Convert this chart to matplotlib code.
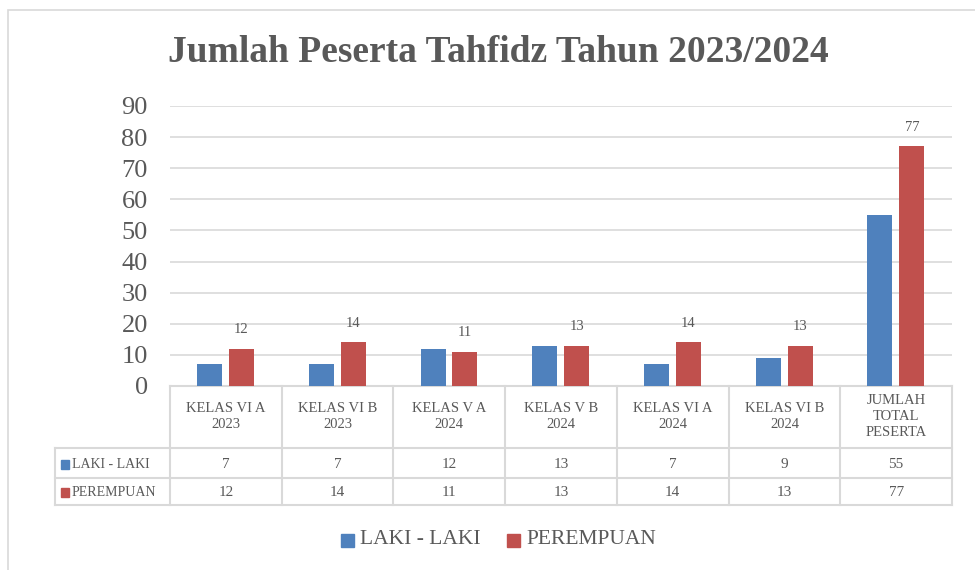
import matplotlib
matplotlib.use("Agg")
import matplotlib.pyplot as plt
import matplotlib.transforms as mtransforms
from matplotlib.lines import Line2D
from matplotlib.patches import Rectangle
import numpy as np

categories = ["KELAS VI A\n2023", "KELAS VI B\n2023", "KELAS V A\n2024", "KELAS V B\n2024",
              "KELAS VI A\n2024", "KELAS VI B\n2024", "JUMLAH\nTOTAL\nPESERTA"]
laki = [7, 7, 12, 13, 7, 9, 55]
perempuan = [12, 14, 11, 13, 14, 13, 77]
series_names = ["LAKI - LAKI", "PEREMPUAN"]
yticks = [0, 10, 20, 30, 40, 50, 60, 70, 80, 90]
title = "Jumlah Peserta Tahfidz Tahun 2023/2024"

BLUE = "#4F81BD"
RED = "#C0504D"
TXT = "#595959"
GRID = "#D9D9D9"
SERIF = ["Liberation Serif", "DejaVu Serif"]

W, H = 975, 570
fig = plt.figure(figsize=(W / 100, H / 100), dpi=100)

def fx(px):
    return px / W

def fy(py):
    return 1 - py / H

# outer border
fig.patches.append(Rectangle((fx(8), fy(575)), fx(980) - fx(8), fy(10) - fy(575),
                             transform=fig.transFigure, fill=False,
                             edgecolor="#D9D9D9", lw=1.2))

left, right, top, bottom = 170, 952, 106, 386
ax = fig.add_axes([fx(left), fy(bottom), fx(right) - fx(left), fy(top) - fy(bottom)])

x = np.arange(len(categories))
bw = 0.224
ax.bar(x - 0.145, laki, width=bw, color=BLUE, zorder=3)
ax.bar(x + 0.14, perempuan, width=bw, color=RED, zorder=3)
for xi, v in zip(x, perempuan):
    ax.annotate(str(v), (xi + 0.14, v), xytext=(0, 9), textcoords="offset points",
                ha="center", va="bottom", fontsize=10.5, color=TXT, family=SERIF)

ax.set_xlim(-0.5, len(categories) - 0.5)
ax.set_ylim(0, 90)
ax.set_yticks(yticks)
ax.set_yticklabels([str(t) for t in yticks], fontsize=19, color=TXT, family=SERIF)
ax.tick_params(axis="y", length=0, pad=16)
ax.set_xticks([])
ax.grid(axis="y", color=GRID, lw=1.2, zorder=0)
for s in ["top", "right", "left"]:
    ax.spines[s].set_visible(False)
ax.spines["bottom"].set_color(GRID)
ax.spines["bottom"].set_linewidth(1.5)

fig.text(fx(498), fy(53), title, ha="center", va="center", fontsize=27,
         fontweight="bold", color=TXT, family=SERIF)

# data table
tr = mtransforms.blended_transform_factory(ax.transData, fig.transFigure)
row_y = [386, 448, 478, 505]
tab_left = 55
lkw = dict(color=GRID, lw=1.5)
for i in range(len(categories) + 1):
    xb = i - 0.5
    fig.add_artist(Line2D([xb, xb], [fy(row_y[0]), fy(row_y[-1])], transform=tr, **lkw))
for ry in row_y[1:]:
    fig.add_artist(Line2D([fx(tab_left), fx(right)], [fy(ry), fy(ry)],
                          transform=fig.transFigure, **lkw))
fig.add_artist(Line2D([fx(tab_left), fx(tab_left)], [fy(row_y[1]), fy(row_y[-1])],
                      transform=fig.transFigure, **lkw))

for xi, c in zip(x, categories):
    fig.text(xi, fy((row_y[0] + row_y[1]) / 2), c, transform=tr, ha="center", va="center",
             fontsize=10.5, color=TXT, family=SERIF, linespacing=1.3)
for r, (vals, name, col) in enumerate(zip([laki, perempuan], series_names, [BLUE, RED])):
    cy = fy((row_y[r + 1] + row_y[r + 2]) / 2 + 1)
    for xi, v in zip(x, vals):
        fig.text(xi, cy, str(v), transform=tr, ha="center", va="center",
                 fontsize=11, color=TXT, family=SERIF)
    fig.patches.append(Rectangle((fx(61), cy - 4.5 / H), 8 / W, 9 / H,
                                 transform=fig.transFigure, color=col))
    fig.text(fx(72), cy, name, ha="left", va="center", fontsize=10,
             color=TXT, family=SERIF)

# legend
leg_y = fy(540)
items = [(341, BLUE, series_names[0]), (507, RED, series_names[1])]
for lx, col, name in items:
    fig.patches.append(Rectangle((fx(lx), leg_y - 6.5 / H), 13 / W, 13 / H,
                                 transform=fig.transFigure, color=col))
    fig.text(fx(lx + 19), leg_y, name, ha="left", va="center", fontsize=15.5,
             color=TXT, family=SERIF)

fig.savefig("out.png", dpi=100)
